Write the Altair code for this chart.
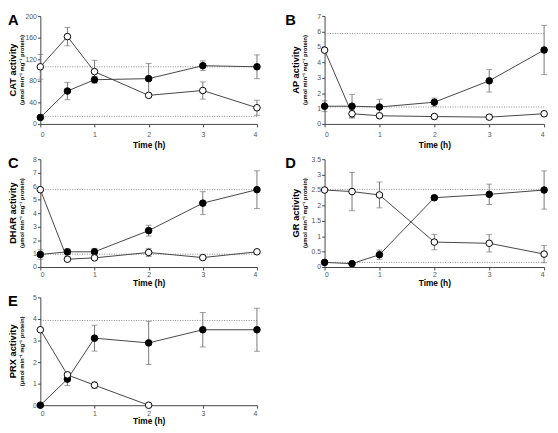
import altair as alt
import pandas as pd

TIME = [0, 0.5, 1, 2, 3, 4]

CAT_FILLED = [12, 61, 82, 84, 108, 106]
CAT_FILLED_ERR = [3, 16, 6, 28, 9, 22]
CAT_OPEN = [106, 162, 97, 53, 62, 30]
CAT_OPEN_ERR = [23, 17, 21, 4, 16, 14]
CAT_REF = [106, 14]

AP_FILLED = [1.15, 1.15, 1.1, 1.41, 2.8, 4.8]
AP_FILLED_ERR = [0.35, 0.77, 0.5, 0.27, 0.73, 1.6]
AP_OPEN = [4.79, 0.66, 0.53, 0.48, 0.44, 0.66]
AP_OPEN_ERR = [0, 0.25, 0.1, 0.15, 0.15, 0.15]
AP_REF = [5.87, 1.1]

DHAR_FILLED = [0.93, 1.13, 1.13, 2.7, 4.74, 5.74]
DHAR_FILLED_ERR = [0.35, 0.2, 0.25, 0.4, 0.85, 1.4]
DHAR_OPEN = [5.74, 0.58, 0.68, 1.08, 0.7, 1.13]
DHAR_OPEN_ERR = [0, 0.15, 0.15, 0.3, 0.1, 0.1]
DHAR_REF = [5.74, 0.95]

GR_FILLED = [0.15, 0.11, 0.4, 2.25, 2.36, 2.5]
GR_FILLED_ERR = [0.05, 0.03, 0.15, 0.07, 0.33, 0.62]
GR_OPEN = [2.5, 2.45, 2.34, 0.81, 0.77, 0.42]
GR_OPEN_ERR = [0, 0.62, 0.42, 0.25, 0.28, 0.28]
GR_REF = [2.52, 0.15]

PRX_FILLED = [0, 1.21, 3.11, 2.89, 3.5, 3.5]
PRX_FILLED_ERR = [0, 0.3, 0.6, 1.0, 0.8, 1.0]
PRX_OPEN = [3.5, 1.41, 0.93, 0, None, None]
PRX_OPEN_ERR = [0, 0, 0.15, 0, None, None]
PRX_REF = [3.93]

UNIT = "(µmol min⁻¹ mg⁻¹ protein)"
FONT = "Liberation Sans"


def panel(letter, name, filled, ferr, opn, oerr, refs, ymax, ticks, w, h,
          label_pad, title_pad, letter_dx=-33, t1dx=-27.5, t2dx=-19):
    rows = []
    for t, v, e in zip(TIME, filled, ferr):
        rows.append(dict(t=t, v=v, lo=v - e, hi=v + e, s="filled"))
    for t, v, e in zip(TIME, opn, oerr):
        if v is not None:
            rows.append(dict(t=t, v=v, lo=v - e, hi=v + e, s="open"))
    df = pd.DataFrame(rows)
    xs = alt.Scale(domain=[0, 4], nice=False, zero=False)
    ys = alt.Scale(domain=[0, ymax], nice=False)
    xax = alt.Axis(values=[0, 1, 2, 3, 4], title="Time (h)", titlePadding=title_pad,
                   labelPadding=label_pad)
    yax = alt.Axis(values=ticks, title=None, labelPadding=1, format="~r")
    X = alt.X("t:Q", scale=xs, axis=xax)
    base = alt.Chart(df)
    ref = alt.Chart(pd.DataFrame({"r": refs})).mark_rule(
        color="#888", strokeDash=[1, 1.5], strokeWidth=1
    ).encode(y=alt.Y("r:Q", scale=ys, axis=yax))
    lines = base.mark_line(color="#444", strokeWidth=1).encode(
        x=X, y=alt.Y("v:Q", scale=ys, axis=yax), detail="s:N")
    errdf = df[df.hi > df.lo]
    err = alt.Chart(errdf).mark_rule(color="#777", strokeWidth=1).encode(
        x=X, y=alt.Y("lo:Q", scale=ys, axis=yax), y2="hi:Q")
    caps = alt.Chart(errdf).transform_fold(["lo", "hi"], as_=["k", "e"]).mark_tick(
        orient="horizontal", color="#777", size=6, thickness=1).encode(
        x=X, y=alt.Y("e:Q", scale=ys, axis=yax))
    pts = base.mark_point(filled=True, size=45, stroke="black", strokeWidth=1,
                          opacity=1).encode(
        x=X, y=alt.Y("v:Q", scale=ys, axis=yax),
        fill=alt.Fill("s:N", scale=alt.Scale(domain=["filled", "open"],
                                             range=["black", "white"]), legend=None))
    one = pd.DataFrame({"a": [0]})
    lt = alt.Chart(one).mark_text(text=letter, font=FONT, fontSize=15, fontWeight="bold",
                                  align="left", baseline="top", color="black").encode(
        x=alt.value(letter_dx), y=alt.value(-3))
    t1 = alt.Chart(one).mark_text(text=f"{name} activity", font=FONT, fontSize=9.5,
                                  fontWeight="bold", angle=270, align="center",
                                  baseline="middle", color="black").encode(
        x=alt.value(t1dx), y=alt.value(h / 2))
    t2 = alt.Chart(one).mark_text(text=UNIT, font=FONT, fontSize=6, fontWeight="bold",
                                  angle=270, align="center", baseline="middle",
                                  color="black").encode(
        x=alt.value(t2dx), y=alt.value(h / 2))
    return alt.layer(ref, lines, err, caps, pts, lt, t1, t2).properties(width=w, height=h)


LW, RW, H = 221, 224, 110
A = panel("A", "CAT", CAT_FILLED, CAT_FILLED_ERR, CAT_OPEN, CAT_OPEN_ERR, CAT_REF,
          200, [0, 40, 80, 120, 160, 200], LW, H, 4, 3)
B = panel("B", "AP", AP_FILLED, AP_FILLED_ERR, AP_OPEN, AP_OPEN_ERR, AP_REF,
          7, [0, 1, 2, 3, 4, 5, 6, 7], RW, H, 4, 3, letter_dx=-40, t1dx=-29, t2dx=-20)
C = panel("C", "DHAR", DHAR_FILLED, DHAR_FILLED_ERR, DHAR_OPEN, DHAR_OPEN_ERR, DHAR_REF,
          8, [0, 1, 2, 3, 4, 5, 6, 7, 8], LW, H, 1, 1)
D = panel("D", "GR", GR_FILLED, GR_FILLED_ERR, GR_OPEN, GR_OPEN_ERR, GR_REF,
          3.5, [0, 0.5, 1, 1.5, 2, 2.5, 3, 3.5], RW, H, 1, 1, letter_dx=-40, t1dx=-29, t2dx=-20)
E = panel("E", "PRX", PRX_FILLED, PRX_FILLED_ERR, PRX_OPEN, PRX_OPEN_ERR, PRX_REF,
          5, [0, 1, 2, 3, 4, 5], LW, H, 1, 1)

chart = alt.concat(A, B, C, D, E, columns=2, spacing={"row": 6, "column": 23}).resolve_scale(
    x="independent", y="independent"
).properties(padding=0).configure_axis(
    grid=False, labelFont=FONT, labelFontSize=7, labelColor="#555",
    tickSize=3, tickColor="#444", domainColor="#444",
    titleFont=FONT, titleFontSize=8.5, titleFontWeight="bold", titleColor="black"
).configure_view(stroke=None)

chart.save("out.html", embed_options={"renderer": "svg", "actions": False})
